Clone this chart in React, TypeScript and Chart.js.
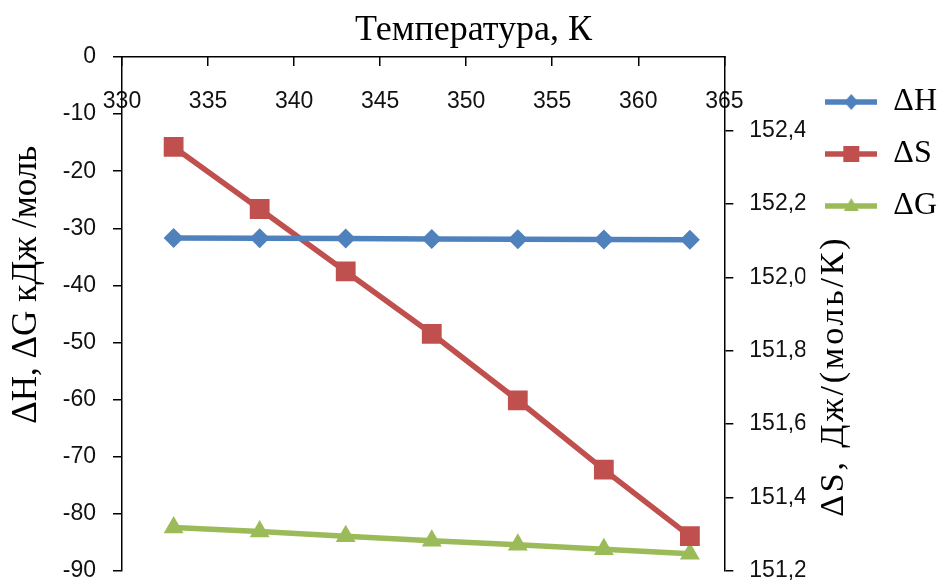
import React, { useEffect, useRef } from 'react';
import { Chart, registerables } from 'chart.js';

Chart.register(...registerables);

// ---- data ----
const temperatures = [333, 338, 343, 348, 353, 358, 363];
const deltaH = [-31.7, -31.75, -31.8, -31.85, -31.9, -31.95, -32.0];
const deltaS = [152.355, 152.186, 152.016, 151.846, 151.665, 151.476, 151.295];
const deltaG = [-82.4, -83.1, -83.9, -84.7, -85.4, -86.2, -87.0];
const seriesLabels = ['ΔH', 'ΔS', 'ΔG'];
const seriesColors = ['#4F81BD', '#C0504D', '#9BBB59'];
const xTitle = 'Температура, К';
const yLeftTitle = 'ΔH, ΔG кДж /моль';
const yRightTitle = 'ΔS, Дж/(моль/К)';
const xRange = [330, 365];
const yLeftRange = [-90, 0];
const yRightRange = [151.2, 152.6];

const SANS = '"Liberation Sans", Arial, sans-serif';
const SERIF = '"Liberation Serif", "Times New Roman", serif';

function makeIcon(color: string, shape: string): HTMLCanvasElement {
  const c = document.createElement('canvas');
  c.width = 52;
  c.height = 24;
  const ctx = c.getContext('2d')!;
  ctx.strokeStyle = color;
  ctx.fillStyle = color;
  ctx.lineWidth = 5.5;
  ctx.beginPath();
  ctx.moveTo(0, 12);
  ctx.lineTo(52, 12);
  ctx.stroke();
  ctx.beginPath();
  if (shape === 'diamond') {
    ctx.moveTo(26, 4);
    ctx.lineTo(33, 12);
    ctx.lineTo(26, 20);
    ctx.lineTo(19, 12);
  } else if (shape === 'square') {
    ctx.rect(18, 4, 16, 16);
  } else {
    ctx.moveTo(26, 4);
    ctx.lineTo(33.5, 17);
    ctx.lineTo(18.5, 17);
  }
  ctx.closePath();
  ctx.fill();
  return c;
}

const sideTitles = {
  id: 'sideTitles',
  afterDraw(chart: any) {
    const { ctx, chartArea } = chart;
    const h = chartArea.bottom - chartArea.top;
    ctx.save();
    ctx.fillStyle = '#000';
    ctx.font = `35px ${SERIF}`;
    ctx.textAlign = 'center';
    ctx.textBaseline = 'middle';
    ctx.translate(chart.scales.y.left + 27, chartArea.top + h * 0.443);
    ctx.rotate(-Math.PI / 2);
    ctx.fillText(yLeftTitle, 0, 0);
    ctx.restore();

    ctx.save();
    ctx.fillStyle = '#000';
    ctx.font = `34px ${SERIF}`;
    try {
      (ctx as any).letterSpacing = '2.8px';
    } catch (e) {
      /* ignore */
    }
    ctx.textAlign = 'center';
    ctx.textBaseline = 'middle';
    ctx.translate(chartArea.right + 110, chartArea.top + h * 0.621);
    ctx.rotate(-Math.PI / 2);
    ctx.fillText(yRightTitle, 0, 0);
    ctx.restore();
  },
};

const noPad = (s: any) => {
  s.paddingTop = 0;
  s.paddingBottom = 0;
  s.paddingLeft = 0;
  s.paddingRight = 0;
  s.getPadding = () => ({ left: 0, top: 0, right: 0, bottom: 0 });
};

export default function App() {
  const ref = useRef<HTMLCanvasElement | null>(null);

  useEffect(() => {
    if (!ref.current) return;
    const icons = [
      makeIcon(seriesColors[0], 'diamond'),
      makeIcon(seriesColors[1], 'square'),
      makeIcon(seriesColors[2], 'triangle'),
    ];
    const toPts = (arr: number[]) => temperatures.map((t, i) => ({ x: t, y: arr[i] }));
    const tickFont = { family: SANS, size: 23 };
    const chart = new Chart(ref.current, {
      type: 'line',
      data: {
        datasets: [
          {
            label: seriesLabels[0],
            data: toPts(deltaH),
            yAxisID: 'y',
            borderColor: seriesColors[0],
            backgroundColor: seriesColors[0],
            borderWidth: 5.5,
            pointStyle: 'rectRot',
            pointRadius: 10,
            pointBorderWidth: 0,
          },
          {
            label: seriesLabels[1],
            data: toPts(deltaS),
            yAxisID: 'y1',
            borderColor: seriesColors[1],
            backgroundColor: seriesColors[1],
            borderWidth: 5.5,
            pointStyle: 'rect',
            pointRadius: 14,
            pointBorderWidth: 0,
          },
          {
            label: seriesLabels[2],
            data: toPts(deltaG),
            yAxisID: 'y',
            borderColor: seriesColors[2],
            backgroundColor: seriesColors[2],
            borderWidth: 5.5,
            pointStyle: 'triangle',
            pointRadius: 11.5,
            pointBorderWidth: 0,
          },
        ],
      },
      options: {
        animation: false,
        responsive: false,
        layout: { padding: { left: 0, right: 0, top: 0, bottom: 11 } },
        plugins: {
          tooltip: { enabled: false },
          title: {
            display: true,
            text: xTitle,
            color: '#000',
            font: { family: SERIF, size: 36, weight: 'normal' },
            padding: { top: 9, bottom: 0 },
          },
          legend: {
            display: true,
            position: 'right',
            align: 'start',
            fullSize: false,
            title: { display: true, text: ' ', font: { size: 7.5 }, padding: 0 },
            labels: {
              usePointStyle: true,
              pointStyleWidth: 52,
              padding: 20,
              color: '#000',
              font: { family: SERIF, size: 32 },
              generateLabels: () =>
                seriesLabels.map((l, i) => ({
                  text: l,
                  fillStyle: seriesColors[i],
                  strokeStyle: seriesColors[i],
                  lineWidth: 0,
                  pointStyle: icons[i],
                  datasetIndex: i,
                  hidden: false,
                  fontColor: '#000',
                })) as any,
            },
          },
        },
        scales: {
          x: {
            type: 'linear',
            position: 'top',
            min: xRange[0],
            max: xRange[1],
            afterFit: (s: any) => {
              s.height = 4.8;
              noPad(s);
            },
            ticks: { stepSize: 5, color: '#111', font: tickFont, padding: 31, maxRotation: 0, mirror: true },
            grid: { drawOnChartArea: false, tickLength: -9, color: '#000', lineWidth: 1.5 },
            border: { display: true, color: '#000', width: 1.5 },
          },
          y: {
            type: 'linear',
            position: 'left',
            min: yLeftRange[0],
            max: yLeftRange[1],
            afterFit: (s: any) => {
              s.width = 122;
              noPad(s);
            },
            ticks: { stepSize: 10, color: '#111', font: tickFont, padding: 17 },
            grid: { drawOnChartArea: false, tickLength: 9, color: '#000', lineWidth: 1.5 },
            border: { display: true, color: '#000', width: 1.5 },
          },
          y1: {
            type: 'linear',
            position: 'right',
            min: yRightRange[0],
            max: yRightRange[1],
            afterFit: (s: any) => {
              s.width = 81;
              noPad(s);
            },
            afterBuildTicks: (s: any) => {
              s.ticks = s.ticks.filter((t: any) => t.value < yRightRange[1] - 0.05);
            },
            ticks: {
              stepSize: 0.2,
              color: '#111',
              font: tickFont,
              padding: 16,
              callback: (v: any) => Number(v).toFixed(1).replace('.', ','),
            },
            grid: { drawOnChartArea: false, tickLength: 9, color: '#000', lineWidth: 1.5 },
            border: { display: true, color: '#000', width: 1.5 },
          },
        },
      },
      plugins: [sideTitles],
    } as any);
    return () => chart.destroy();
  }, []);

  return (
    <div style={{ position: 'absolute', left: 0, top: 0, width: 947, height: 585, background: '#fff' }}>
      <canvas ref={ref} width={947} height={585} style={{ display: 'block' }} />
    </div>
  );
}
